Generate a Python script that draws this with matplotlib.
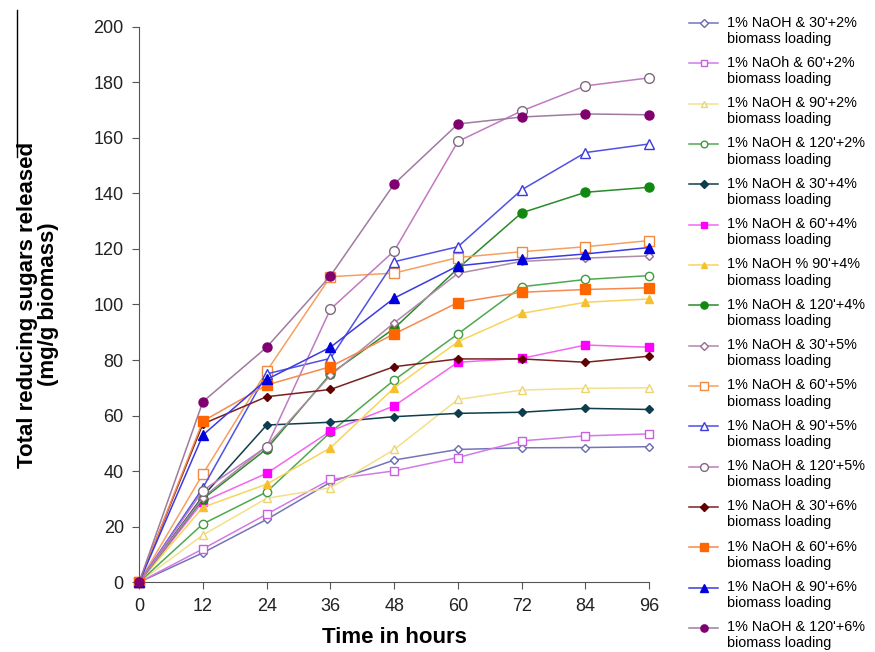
import matplotlib.pyplot as plt
from matplotlib.legend_handler import HandlerLine2D
from matplotlib.lines import Line2D

plt.rcParams["font.family"] = ["Liberation Sans", "DejaVu Sans"]

hours = [0, 12, 24, 36, 48, 60, 72, 84, 96]

naoh30_2 = [0, 10.6, 22.6, 36, 44, 47.8, 48.4, 48.5, 48.8]
naoh60_2 = [0, 12, 24.5, 37, 40.1, 44.9, 50.9, 52.7, 53.4]
naoh90_2 = [0, 17, 30.2, 34, 47.8, 65.8, 69.2, 69.8, 70]
naoh120_2 = [0, 21, 32.5, 54, 72.8, 89.4, 106.4, 109, 110.4]
naoh30_4 = [0, 31, 56.6, 57.6, 59.6, 60.8, 61.2, 62.6, 62.2]
naoh60_4 = [0, 29, 39.2, 54.4, 63.5, 79.2, 80.6, 85.4, 84.6]
naoh90_4 = [0, 27, 35.3, 48.4, 70, 86.6, 96.8, 100.8, 102]
naoh120_4 = [0, 30, 48, 75, 91.4, 113, 133, 140.4, 142.2]
naoh30_5 = [0, 30.5, 49, 74.5, 93.4, 111.2, 115.5, 116.7, 117.5]
naoh60_5 = [0, 39, 76, 110, 111.3, 116.9, 119, 120.8, 123]
naoh90_5 = [0, 34, 75, 80.6, 115.4, 120.8, 141.3, 154.7, 157.8]
naoh120_5 = [0, 33, 48.8, 98.3, 119.3, 158.7, 169.7, 178.7, 181.6]
naoh30_6 = [0, 57, 66.8, 69.4, 77.6, 80.4, 80.4, 79.2, 81.4]
naoh60_6 = [0, 58, 71, 77.6, 89.4, 100.7, 104.4, 105.4, 106]
naoh90_6 = [0, 53, 73, 84.6, 102.3, 113.9, 116.3, 118.2, 120.5]
naoh120_6 = [0, 65, 84.6, 110.3, 143.4, 165, 167.5, 168.6, 168.3]

labels = [
    "1% NaOH & 30'+2%\nbiomass loading",
    "1% NaOh & 60'+2%\nbiomass loading",
    "1% NaOH & 90'+2%\nbiomass loading",
    "1% NaOH & 120'+2%\nbiomass loading",
    "1% NaOH & 30'+4%\nbiomass loading",
    "1% NaOH & 60'+4%\nbiomass loading",
    "1% NaOH % 90'+4%\nbiomass loading",
    "1% NaOH & 120'+4%\nbiomass loading",
    "1% NaOH & 30'+5%\nbiomass loading",
    "1% NaOH & 60'+5%\nbiomass loading",
    "1% NaOH & 90'+5%\nbiomass loading",
    "1% NaOH & 120'+5%\nbiomass loading",
    "1% NaOH & 30'+6%\nbiomass loading",
    "1% NaOH & 60'+6%\nbiomass loading",
    "1% NaOH & 90'+6%\nbiomass loading",
    "1% NaOH & 120'+6%\nbiomass loading",
]

series = [naoh30_2, naoh60_2, naoh90_2, naoh120_2,
          naoh30_4, naoh60_4, naoh90_4, naoh120_4,
          naoh30_5, naoh60_5, naoh90_5, naoh120_5,
          naoh30_6, naoh60_6, naoh90_6, naoh120_6]

# (line colour, marker, marker edge, marker face, marker size)
styles = [
    ("#7474b8", "D", "#6a6ab0", "white", 4.5),
    ("#d27ae6", "s", "#c860e0", "white", 6),
    ("#f3e08c", "^", "#ecd470", "white", 6),
    ("#4fa84f", "o", "#3f9a3f", "white", 6),
    ("#0e3d4d", "D", "#0e3d4d", "#0e3d4d", 4.5),
    ("#f266f2", "s", "#ff00ff", "#ff00ff", 6),
    ("#f7d45a", "^", "#f5c030", "#f5c030", 6),
    ("#2a8a2a", "o", "#118811", "#118811", 6.5),
    ("#b08aa8", "D", "#9a6a90", "white", 4.5),
    ("#f6a060", "s", "#f08a40", "white", 6.5),
    ("#5050e8", "^", "#3a3ae0", "white", 6.5),
    ("#c07ac0", "o", "#7d6a7d", "white", 7),
    ("#7a2020", "D", "#600000", "#600000", 4.5),
    ("#f58a50", "s", "#ff6600", "#ff6600", 6.5),
    ("#3a3ae6", "^", "#0000dd", "#0000dd", 6.5),
    ("#a07aa0", "o", "#800070", "#800070", 6.5),
]


class FirstLineHandler(HandlerLine2D):
    # put the legend key level with the first text line, not mid-entry
    def create_artists(self, legend, orig_handle, xdescent, ydescent,
                       width, height, fontsize, trans):
        return super().create_artists(legend, orig_handle, xdescent,
                                      ydescent - 1.1 * fontsize, width,
                                      height, fontsize, trans)


fig = plt.figure(figsize=(8.75, 6.52), dpi=100)
ax = fig.add_axes([0.159, 0.107, 0.583, 0.852])

lines = []
for values, label, (lc, mk, mec, mfc, ms) in zip(series, labels, styles):
    line, = ax.plot(hours, values, color=lc, linewidth=1.1, marker=mk,
                    markeredgecolor=mec, markerfacecolor=mfc, markersize=ms,
                    markeredgewidth=1.0, label=label, clip_on=False, zorder=3)
    lines.append(line)

ax.set_xlim(0, 96)
ax.set_ylim(0, 200)
ax.set_xticks(hours)
ax.set_yticks(range(0, 201, 20))
ax.tick_params(axis="both", labelsize=13, direction="out", length=5,
               color="#555555", pad=6, labelcolor="#222222")
for side in ("top", "right"):
    ax.spines[side].set_visible(False)
for side in ("left", "bottom"):
    ax.spines[side].set_color("#555555")

ax.set_xlabel("Time in hours", fontsize=16, fontweight="bold", labelpad=9)
ax.set_ylabel("Total reducing sugars released\n(mg/g biomass)",
              fontsize=16, fontweight="bold", linespacing=1.0)
ax.yaxis.set_label_coords(-0.158, 0.5)

ax.legend(loc="upper left", bbox_to_anchor=(0.781, 0.985),
          bbox_transform=fig.transFigure, frameon=False, fontsize=10.4,
          handlelength=2.0, handletextpad=0.6, labelspacing=0.7,
          borderaxespad=0, markerscale=0.8,
          handler_map={line: FirstLineHandler() for line in lines})

# stray vertical rule at the top left of the original image
fig.add_artist(Line2D([17 / 875, 17 / 875], [1 - 10 / 652, 1 - 157 / 652],
                      transform=fig.transFigure, color="black", linewidth=1))

fig.savefig("out.png", dpi=100)
